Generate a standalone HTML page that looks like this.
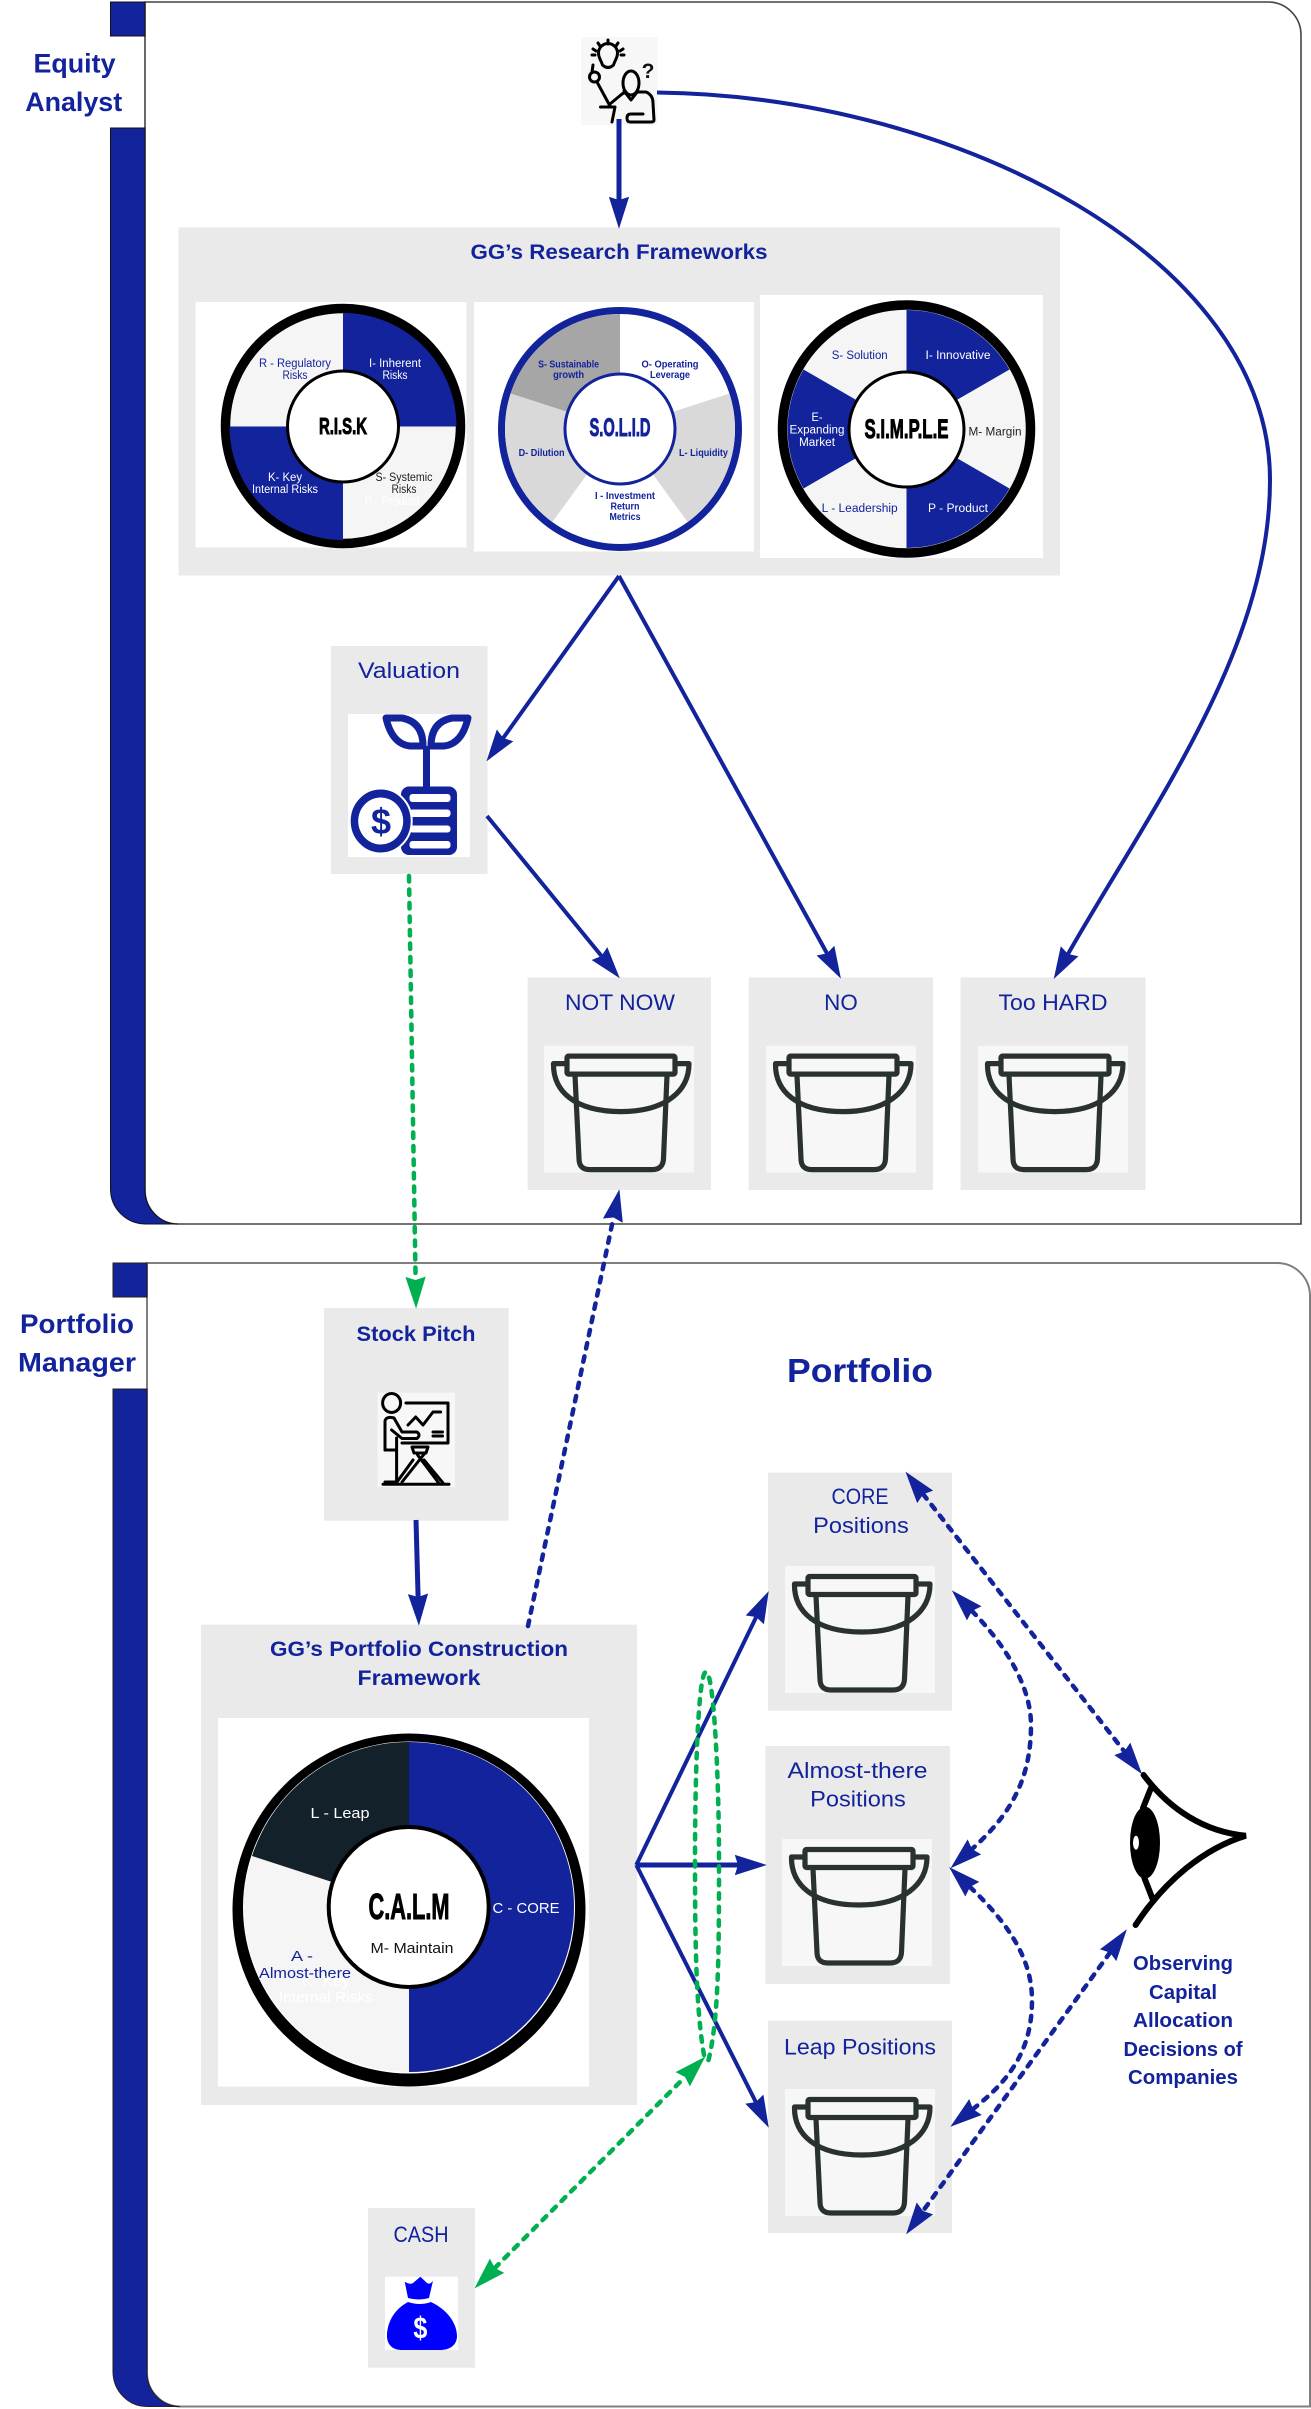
<!DOCTYPE html>
<html><head><meta charset="utf-8"><title>Research and Portfolio Process</title>
<style>
html,body{margin:0;padding:0;background:#fff}
svg{display:block}
text{font-family:"Liberation Sans",sans-serif;text-anchor:middle;fill:#12239b}
.b{font-weight:700}
.s{font-size:11.5px}
.xs{font-size:10px;font-weight:700}
.w{fill:#fff}
.d{fill:#222}
.big{font-weight:700;fill:#000;stroke:#000;stroke-width:1}
.l{font-size:22px}
.t{font-size:21.5px;font-weight:700}
.sa{fill:none;stroke:#12239b;stroke-width:4}
.da{fill:none;stroke:#12239b;stroke-width:4.5;stroke-dasharray:5.5 8;stroke-linecap:round}
.ga{fill:none;stroke:#00b050;stroke-width:4.5;stroke-dasharray:5.5 8;stroke-linecap:round}
.ic{fill:none;stroke:#000;stroke-width:3;stroke-linecap:round;stroke-linejoin:round}
</style></head><body>
<svg width="1311" height="2409" viewBox="0 0 1311 2409" xmlns="http://www.w3.org/2000/svg">
<defs>
<marker id="ab" markerUnits="userSpaceOnUse" markerWidth="32" markerHeight="22" viewBox="0 0 30 20" refX="3" refY="10" orient="auto-start-reverse"><path d="M0,0.5 L30,10 L0,19.5 L3,10 Z" fill="#12239b"/></marker>
<marker id="ag" markerUnits="userSpaceOnUse" markerWidth="32" markerHeight="22" viewBox="0 0 30 20" refX="3" refY="10" orient="auto-start-reverse"><path d="M0,0.5 L30,10 L0,19.5 L3,10 Z" fill="#00b050"/></marker>
<symbol id="bk" viewBox="0 0 150 127">
<rect width="150" height="127" fill="#f7f7f7"/>
<g fill="none" stroke="#29322f" stroke-width="5.2" stroke-linejoin="round" stroke-linecap="round">
<path d="M31,30 L35,113 Q35,124 46,124 H108 Q119,124 119.5,113 L123,30"/>
<path d="M23,18 H9.5 C9,45 30,66 77,66 C122,66 145,45 145,18 H131"/>
<rect x="23" y="10.5" width="108" height="18" rx="1.5" fill="#f7f7f7"/>
</g>
</symbol>
</defs>
<rect width="1311" height="2409" fill="#fff"/>

<!-- Panel 1 -->
<path d="M145,2 H1268 A33,33 0 0 1 1301,35 V1224 H178 A33,34 0 0 1 145,1190 Z" fill="#fff" stroke="#444" stroke-width="1.6"/>
<rect x="110.5" y="2" width="34.5" height="34" fill="#12239b" stroke="#111" stroke-width="1"/>
<path d="M110.5,128 H145 V1190 A33,34 0 0 0 178,1224 H145 A35,35 0 0 1 110.5,1189 Z" fill="#12239b" stroke="#111" stroke-width="1"/>
<text x="74.5" y="72.5" class="b" style="font-size:27px" textLength="82" lengthAdjust="spacingAndGlyphs">Equity</text>
<text x="73.7" y="111" class="b" style="font-size:27px" textLength="97" lengthAdjust="spacingAndGlyphs">Analyst</text>

<!-- Panel 2 -->
<path d="M147,1263 H1277 A33,33 0 0 1 1310,1296 V2406.5 H180 A33,34 0 0 1 147,2372 Z" fill="#fff" stroke="#7f7f7f" stroke-width="2"/>
<rect x="113" y="1263" width="34" height="34" fill="#12239b" stroke="#222" stroke-width="1"/>
<path d="M113,1389 H147 V2372 A33,34 0 0 0 180,2406.5 H147 A34,35 0 0 1 113,2372 Z" fill="#12239b" stroke="#222" stroke-width="1"/>
<text x="77" y="1333" class="b" style="font-size:27px" textLength="114" lengthAdjust="spacingAndGlyphs">Portfolio</text>
<text x="77" y="1371.5" class="b" style="font-size:27px" textLength="118" lengthAdjust="spacingAndGlyphs">Manager</text>

<!-- Analyst icon -->
<rect x="581" y="37" width="76.5" height="88" fill="#f7f7f7"/>
<g class="ic">
<path d="M602.5,65 C601,60 598.5,58 598.5,53 A9.5,9.5 0 0 1 617.5,53 C617.5,58 615,60 613.5,65 Q608,70 602.5,65 Z"/>
<path d="M608,40 V44 M598,43 L600,46 M618,43 L616,46 M593,49 L596,51 M623,49 L620,51 M592,55 H595 M621,55 H624"/>
<circle cx="594.5" cy="77" r="5"/>
<path d="M592,72 L593,65 M597,82 L610,106 M610,104 L622,94 M600.5,107 H615 L612,122"/>
<ellipse cx="631" cy="83" rx="8" ry="12"/>
<path d="M624,91 L631,100 L638,91 M622,94 L626,92 M637,92 H646 Q653,95 653,103 L654,120 Q654,122 651,122 H630 Q627,122 627,118 Q627,114 631,114 H643"/>
</g>
<text x="648" y="78" style="font-size:21px;font-weight:700;fill:#111">?</text>

<!-- Research frameworks -->
<rect x="178.5" y="227.5" width="881.5" height="348" fill="#eaeaea"/>
<text x="619" y="259" class="t" textLength="297" lengthAdjust="spacingAndGlyphs">GG’s Research Frameworks</text>
<rect x="195.5" y="302" width="271" height="245.5" fill="#fff"/>
<rect x="474" y="302" width="280" height="249.5" fill="#fff"/>
<rect x="760" y="295" width="283" height="263" fill="#fff"/>

<!-- RISK -->
<circle cx="343" cy="426" r="117.5" fill="#f5f5f5" stroke="#000" stroke-width="9.5"/>
<path d="M343,426.5 V313 A113.5,113.5 0 0 1 456.5,426.5 Z M343,426.5 V540 A113.5,113.5 0 0 1 229.5,426.5 Z" fill="#12239b"/>
<circle cx="343" cy="426.5" r="55.5" fill="#fff" stroke="#000" stroke-width="3"/>
<text x="295" y="367" class="s" textLength="72" lengthAdjust="spacingAndGlyphs">R - Regulatory</text>
<text x="295" y="379" class="s" textLength="25" lengthAdjust="spacingAndGlyphs">Risks</text>
<text x="395" y="367" class="s w" textLength="52" lengthAdjust="spacingAndGlyphs">I- Inherent</text>
<text x="395" y="379" class="s w" textLength="25" lengthAdjust="spacingAndGlyphs">Risks</text>
<text x="404" y="481" class="s d" textLength="57" lengthAdjust="spacingAndGlyphs">S- Systemic</text>
<text x="404" y="493" class="s d" textLength="25" lengthAdjust="spacingAndGlyphs">Risks</text>
<text x="392" y="505" class="s w" textLength="55" lengthAdjust="spacingAndGlyphs">P - Product</text>
<text x="285" y="481" class="s w" textLength="34" lengthAdjust="spacingAndGlyphs">K- Key</text>
<text x="285" y="493" class="s w" textLength="66" lengthAdjust="spacingAndGlyphs">Internal Risks</text>
<text x="343" y="434" class="big" style="font-size:23px" textLength="48" lengthAdjust="spacingAndGlyphs">R.I.S.K</text>

<!-- SOLID -->
<circle cx="620" cy="429" r="118.5" fill="#fff" stroke="#12239b" stroke-width="7"/>
<path d="M620,429 L510.6,393.5 A115,115 0 0 1 620,314 Z" fill="#a6a6a6"/>
<path d="M620,429 L729.4,393.5 A115,115 0 0 1 687.6,522 Z M620,429 L552.4,522 A115,115 0 0 1 510.6,393.5 Z" fill="#d9d9d9"/>
<circle cx="620" cy="429" r="55" fill="#fff" stroke="#12239b" stroke-width="3"/>
<text x="568.6" y="367.5" class="xs" textLength="61" lengthAdjust="spacingAndGlyphs">S- Sustainable</text>
<text x="568.6" y="378" class="xs" textLength="31" lengthAdjust="spacingAndGlyphs">growth</text>
<text x="670" y="367.5" class="xs" textLength="57" lengthAdjust="spacingAndGlyphs">O- Operating</text>
<text x="670" y="378" class="xs" textLength="40" lengthAdjust="spacingAndGlyphs">Leverage</text>
<text x="703.5" y="456" class="xs" textLength="49" lengthAdjust="spacingAndGlyphs">L- Liquidity</text>
<text x="541.6" y="456" class="xs" textLength="46" lengthAdjust="spacingAndGlyphs">D- Dilution</text>
<text x="625" y="499" class="xs" textLength="60" lengthAdjust="spacingAndGlyphs">I - Investment</text>
<text x="625" y="509.5" class="xs" textLength="29" lengthAdjust="spacingAndGlyphs">Return</text>
<text x="625" y="520" class="xs" textLength="31" lengthAdjust="spacingAndGlyphs">Metrics</text>
<text x="620" y="436" class="b" style="font-size:25px;stroke:#12239b;stroke-width:1" textLength="61" lengthAdjust="spacingAndGlyphs">S.O.L.I.D</text>

<!-- SIMPLE -->
<circle cx="906.5" cy="429" r="124" fill="#f5f5f5" stroke="#000" stroke-width="9.5"/>
<path d="M906.5,429 V310 A119,119 0 0 1 1009.5,369.5 Z M906.5,429 L1009.5,488.5 A119,119 0 0 1 906.5,548 Z M906.5,429 L803.5,488.5 A119,119 0 0 1 803.5,369.5 Z" fill="#12239b"/>
<circle cx="906.5" cy="429.5" r="57.5" fill="#fff" stroke="#000" stroke-width="3"/>
<text x="859.7" y="359" class="s" textLength="56" lengthAdjust="spacingAndGlyphs">S- Solution</text>
<text x="958" y="359" class="s w" textLength="65" lengthAdjust="spacingAndGlyphs">I- Innovative</text>
<text x="995" y="435.5" class="s d" textLength="53" lengthAdjust="spacingAndGlyphs">M- Margin</text>
<text x="958" y="512" class="s w" textLength="60" lengthAdjust="spacingAndGlyphs">P - Product</text>
<text x="859.7" y="512" class="s" textLength="76" lengthAdjust="spacingAndGlyphs">L - Leadership</text>
<text x="817" y="421" class="s w" textLength="11" lengthAdjust="spacingAndGlyphs">E-</text>
<text x="817" y="433.5" class="s w" textLength="55" lengthAdjust="spacingAndGlyphs">Expanding</text>
<text x="817" y="446" class="s w" textLength="36" lengthAdjust="spacingAndGlyphs">Market</text>
<text x="906.5" y="438" class="big" style="font-size:27px" textLength="84" lengthAdjust="spacingAndGlyphs">S.I.M.P.L.E</text>

<!-- Valuation -->
<rect x="331" y="646" width="156.5" height="228" fill="#eaeaea"/>
<text x="409" y="678" class="l" textLength="102" lengthAdjust="spacingAndGlyphs">Valuation</text>
<rect x="348" y="714" width="122" height="143" fill="#fff"/>
<g fill="none" stroke="#12239b" stroke-width="7" stroke-linejoin="round">
<path d="M386,718 H402 Q423,722 423,746 H410 Q392,744 386,718 Z"/>
<path d="M468,718 H452 Q431,722 431,746 H444 Q462,744 468,718 Z"/>
<path d="M426.5,746 V788"/>
</g>
<rect x="401" y="786.5" width="56" height="68.5" rx="8" fill="#12239b"/>
<g fill="#fff">
<rect x="409.5" y="794" width="41" height="8" rx="3"/>
<rect x="409.5" y="809.5" width="41" height="7.5" rx="3"/>
<rect x="409.5" y="825.5" width="41" height="7" rx="3"/>
<rect x="409.5" y="841" width="41" height="7.5" rx="3"/>
</g>
<ellipse cx="380.7" cy="821" rx="31" ry="32.5" fill="#12239b" stroke="#fff" stroke-width="2"/>
<ellipse cx="380.7" cy="821" rx="22.5" ry="23.5" fill="#fff"/>
<text x="381" y="834" class="b" style="font-size:36px">$</text>

<!-- Outcome boxes -->
<rect x="527.6" y="977.4" width="183.4" height="212.6" fill="#eaeaea"/>
<rect x="748.7" y="977.4" width="184.3" height="212.6" fill="#eaeaea"/>
<rect x="960.6" y="977.4" width="184.9" height="212.6" fill="#eaeaea"/>
<text x="620" y="1010" class="l" textLength="110" lengthAdjust="spacingAndGlyphs">NOT NOW</text>
<text x="841" y="1010" class="l" textLength="33.6" lengthAdjust="spacingAndGlyphs">NO</text>
<text x="1053" y="1010" class="l" textLength="109" lengthAdjust="spacingAndGlyphs">Too HARD</text>
<use href="#bk" x="544" y="1045.6" width="150" height="127"/>
<use href="#bk" x="766" y="1045.6" width="150" height="127"/>
<use href="#bk" x="978" y="1045.6" width="150" height="127"/>

<!-- Stock pitch -->
<rect x="324" y="1308" width="184.7" height="212.7" fill="#eaeaea"/>
<text x="416" y="1341" class="b" style="font-size:21px" textLength="119" lengthAdjust="spacingAndGlyphs">Stock Pitch</text>
<rect x="377.5" y="1392.7" width="77.5" height="94.3" fill="#f7f7f7"/>
<g class="ic" stroke-width="2.3">
<ellipse cx="391.6" cy="1403" rx="9" ry="9.5"/>
<path d="M406,1403 H448 V1443 H402"/>
<path d="M408,1425 L415.7,1417 L423,1425 L433,1412 H440.6"/>
<path d="M433,1432 H442.5 M433,1436 H442.5"/>
<path d="M385,1450 V1421 Q386,1416 394,1418 L402,1432 H417 Q421,1435 417,1438.5 H402 L391.6,1430"/>
<path d="M385,1450 H396.6 M396.6,1438 V1482 H385"/>
<path d="M383,1484.3 H449"/>
<path d="M412,1447 H428 L426,1453 H414 Z"/>
<path d="M425,1453 L402,1482 M417.6,1455 L438.7,1483 M413,1460 L397,1482 M424,1460 L443,1483"/>
</g>

<!-- Portfolio construction -->
<rect x="201" y="1624.7" width="436" height="480.3" fill="#eaeaea"/>
<text x="419" y="1656" class="t" textLength="298" lengthAdjust="spacingAndGlyphs">GG’s Portfolio Construction</text>
<text x="419" y="1685" class="t" textLength="123" lengthAdjust="spacingAndGlyphs">Framework</text>
<rect x="218" y="1718" width="371" height="368.7" fill="#fff"/>
<circle cx="409" cy="1910" r="176.5" fill="#000"/>
<circle cx="409" cy="1907.5" r="166" fill="#fff"/>
<path d="M409,1907 V1742 A165,165 0 0 1 409,2072 Z" fill="#12239b"/>
<path d="M409,1907 V2072 A165,165 0 0 1 252,1856 Z" fill="#f5f5f5"/>
<path d="M409,1907 L252,1856 A165,165 0 0 1 409,1742 Z" fill="#13212b"/>
<circle cx="408.7" cy="1907" r="80" fill="#fff" stroke="#000" stroke-width="4"/>
<text x="340" y="1818" class="w" style="font-size:15px" textLength="59" lengthAdjust="spacingAndGlyphs">L - Leap</text>
<text x="526" y="1913" class="w" style="font-size:15px" textLength="67" lengthAdjust="spacingAndGlyphs">C - CORE</text>
<text x="412" y="1953" style="font-size:15px;fill:#111" textLength="83" lengthAdjust="spacingAndGlyphs">M- Maintain</text>
<text x="302" y="1961" style="font-size:15px" textLength="22" lengthAdjust="spacingAndGlyphs">A -</text>
<text x="305" y="1978" style="font-size:15px" textLength="92" lengthAdjust="spacingAndGlyphs">Almost-there</text>
<text x="326" y="1986" class="w" style="font-size:15px" textLength="48" lengthAdjust="spacingAndGlyphs">K- Key</text>
<text x="326" y="2002" class="w" style="font-size:15px" textLength="94" lengthAdjust="spacingAndGlyphs">Internal Risks</text>
<text x="409" y="1919" class="big" style="font-size:36px" textLength="81" lengthAdjust="spacingAndGlyphs">C.A.L.M</text>

<!-- Portfolio -->
<text x="860" y="1382" class="b" style="font-size:33px" textLength="146" lengthAdjust="spacingAndGlyphs">Portfolio</text>
<rect x="768" y="1472.7" width="184" height="238" fill="#eaeaea"/>
<text x="860" y="1504" class="l" textLength="57" lengthAdjust="spacingAndGlyphs">CORE</text>
<text x="861" y="1533" class="l" textLength="95.6" lengthAdjust="spacingAndGlyphs">Positions</text>
<use href="#bk" x="785" y="1566" width="150" height="127"/>
<rect x="765.4" y="1746" width="184.6" height="238" fill="#eaeaea"/>
<text x="857.5" y="1778" class="l" textLength="140" lengthAdjust="spacingAndGlyphs">Almost-there</text>
<text x="858" y="1806.5" class="l" textLength="95.6" lengthAdjust="spacingAndGlyphs">Positions</text>
<use href="#bk" x="782" y="1839" width="150" height="127"/>
<rect x="768" y="2020.7" width="184" height="212.3" fill="#eaeaea"/>
<text x="860" y="2054.5" class="l" textLength="152" lengthAdjust="spacingAndGlyphs">Leap Positions</text>
<use href="#bk" x="785" y="2089" width="150" height="127"/>

<!-- Cash -->
<rect x="368" y="2208" width="107" height="159.7" fill="#eaeaea"/>
<text x="421" y="2242" class="l" textLength="55" lengthAdjust="spacingAndGlyphs">CASH</text>
<rect x="385" y="2276.7" width="73" height="73.3" fill="#fff"/>
<path d="M404.7,2281.7 Q410,2285 413,2283 L420.4,2276.7 L427,2283 Q430,2285 433,2280.7 L429,2298 Q419,2301 408,2298 Z" fill="#00f"/>
<path d="M408,2302 Q420,2306 431,2302 C448,2310 457,2324 457,2336 C457,2345 450,2350 440,2350 H402 C393,2350 387,2345 387,2336 C387,2324 393,2310 408,2302 Z" fill="#00f"/>
<text x="420.4" y="2338" class="w b" style="font-size:31px" textLength="14" lengthAdjust="spacingAndGlyphs">$</text>

<!-- Eye -->
<g fill="none" stroke="#000" stroke-width="6" stroke-linecap="round">
<path d="M1143.6,1775 C1170,1810 1205,1832 1245.8,1835.7 C1205,1848 1165,1880 1135.6,1925"/>
<path d="M1151,1788 L1143,1808 M1144.4,1878 L1153,1900"/>
</g>
<ellipse cx="1145" cy="1842.7" rx="15" ry="36" fill="#000"/>
<ellipse cx="1136" cy="1842.7" rx="3" ry="7" fill="#fff"/>
<text x="1183" y="1970" class="b" style="font-size:20px" textLength="100" lengthAdjust="spacingAndGlyphs">Observing</text>
<text x="1183" y="1999" class="b" style="font-size:20px" textLength="68" lengthAdjust="spacingAndGlyphs">Capital</text>
<text x="1183" y="2027" class="b" style="font-size:20px" textLength="100" lengthAdjust="spacingAndGlyphs">Allocation</text>
<text x="1183" y="2056" class="b" style="font-size:20px" textLength="119" lengthAdjust="spacingAndGlyphs">Decisions of</text>
<text x="1183" y="2084" class="b" style="font-size:20px" textLength="110" lengthAdjust="spacingAndGlyphs">Companies</text>

<!-- Connectors -->
<path d="M619,119 V200" fill="none" stroke="#12239b" stroke-width="5" marker-end="url(#ab)"/>
<path d="M657,92.5 C960,96 1270,260 1270,480 C1270,650 1150,810 1068,954" class="sa" marker-end="url(#ab)"/>
<path d="M619,576 L503.2,738" class="sa" marker-end="url(#ab)"/>
<path d="M619,576 L827,953.4" class="sa" marker-end="url(#ab)"/>
<path d="M487,816 L601.5,956" class="sa" marker-end="url(#ab)"/>
<path d="M416,1520 L418.1,1597" fill="none" stroke="#12239b" stroke-width="5" marker-end="url(#ab)"/>
<path d="M409,876 L415.6,1280" class="ga" marker-end="url(#ag)"/>
<path d="M528,1626 L613.5,1217.5" class="da" marker-end="url(#ab)"/>
<path d="M636.3,1865 L756.2,1617" class="sa" marker-end="url(#ab)"/>
<path d="M636.3,1865 L738,1865" class="sa" style="stroke-width:5" marker-end="url(#ab)"/>
<path d="M636.3,1865 L755.8,2102" class="sa" marker-end="url(#ab)"/>
<path d="M704,2055 C696,2010 695,1940 695,1860 C695,1780 698,1672 706,1672 C714,1672 719,1780 719,1860 C719,1950 719,2020 708,2062" class="ga"/>
<path d="M494.8,2268 L685,2077" class="ga" marker-start="url(#ag)" marker-end="url(#ag)"/>
<path d="M923.2,1494.3 L1124.3,1751.4" class="da" marker-start="url(#ab)" marker-end="url(#ab)"/>
<path d="M972,1611 C1010,1650 1031,1690 1031,1725 C1031,1780 1010,1815 972,1849" class="da" marker-start="url(#ab)" marker-end="url(#ab)"/>
<path d="M970,1887 C1010,1925 1032,1960 1032,2000 C1032,2050 1010,2080 973,2109" class="da" marker-start="url(#ab)" marker-end="url(#ab)"/>
<path d="M1110,1952.6 L923,2211" class="da" marker-start="url(#ab)" marker-end="url(#ab)"/>
</svg>
</body></html>
